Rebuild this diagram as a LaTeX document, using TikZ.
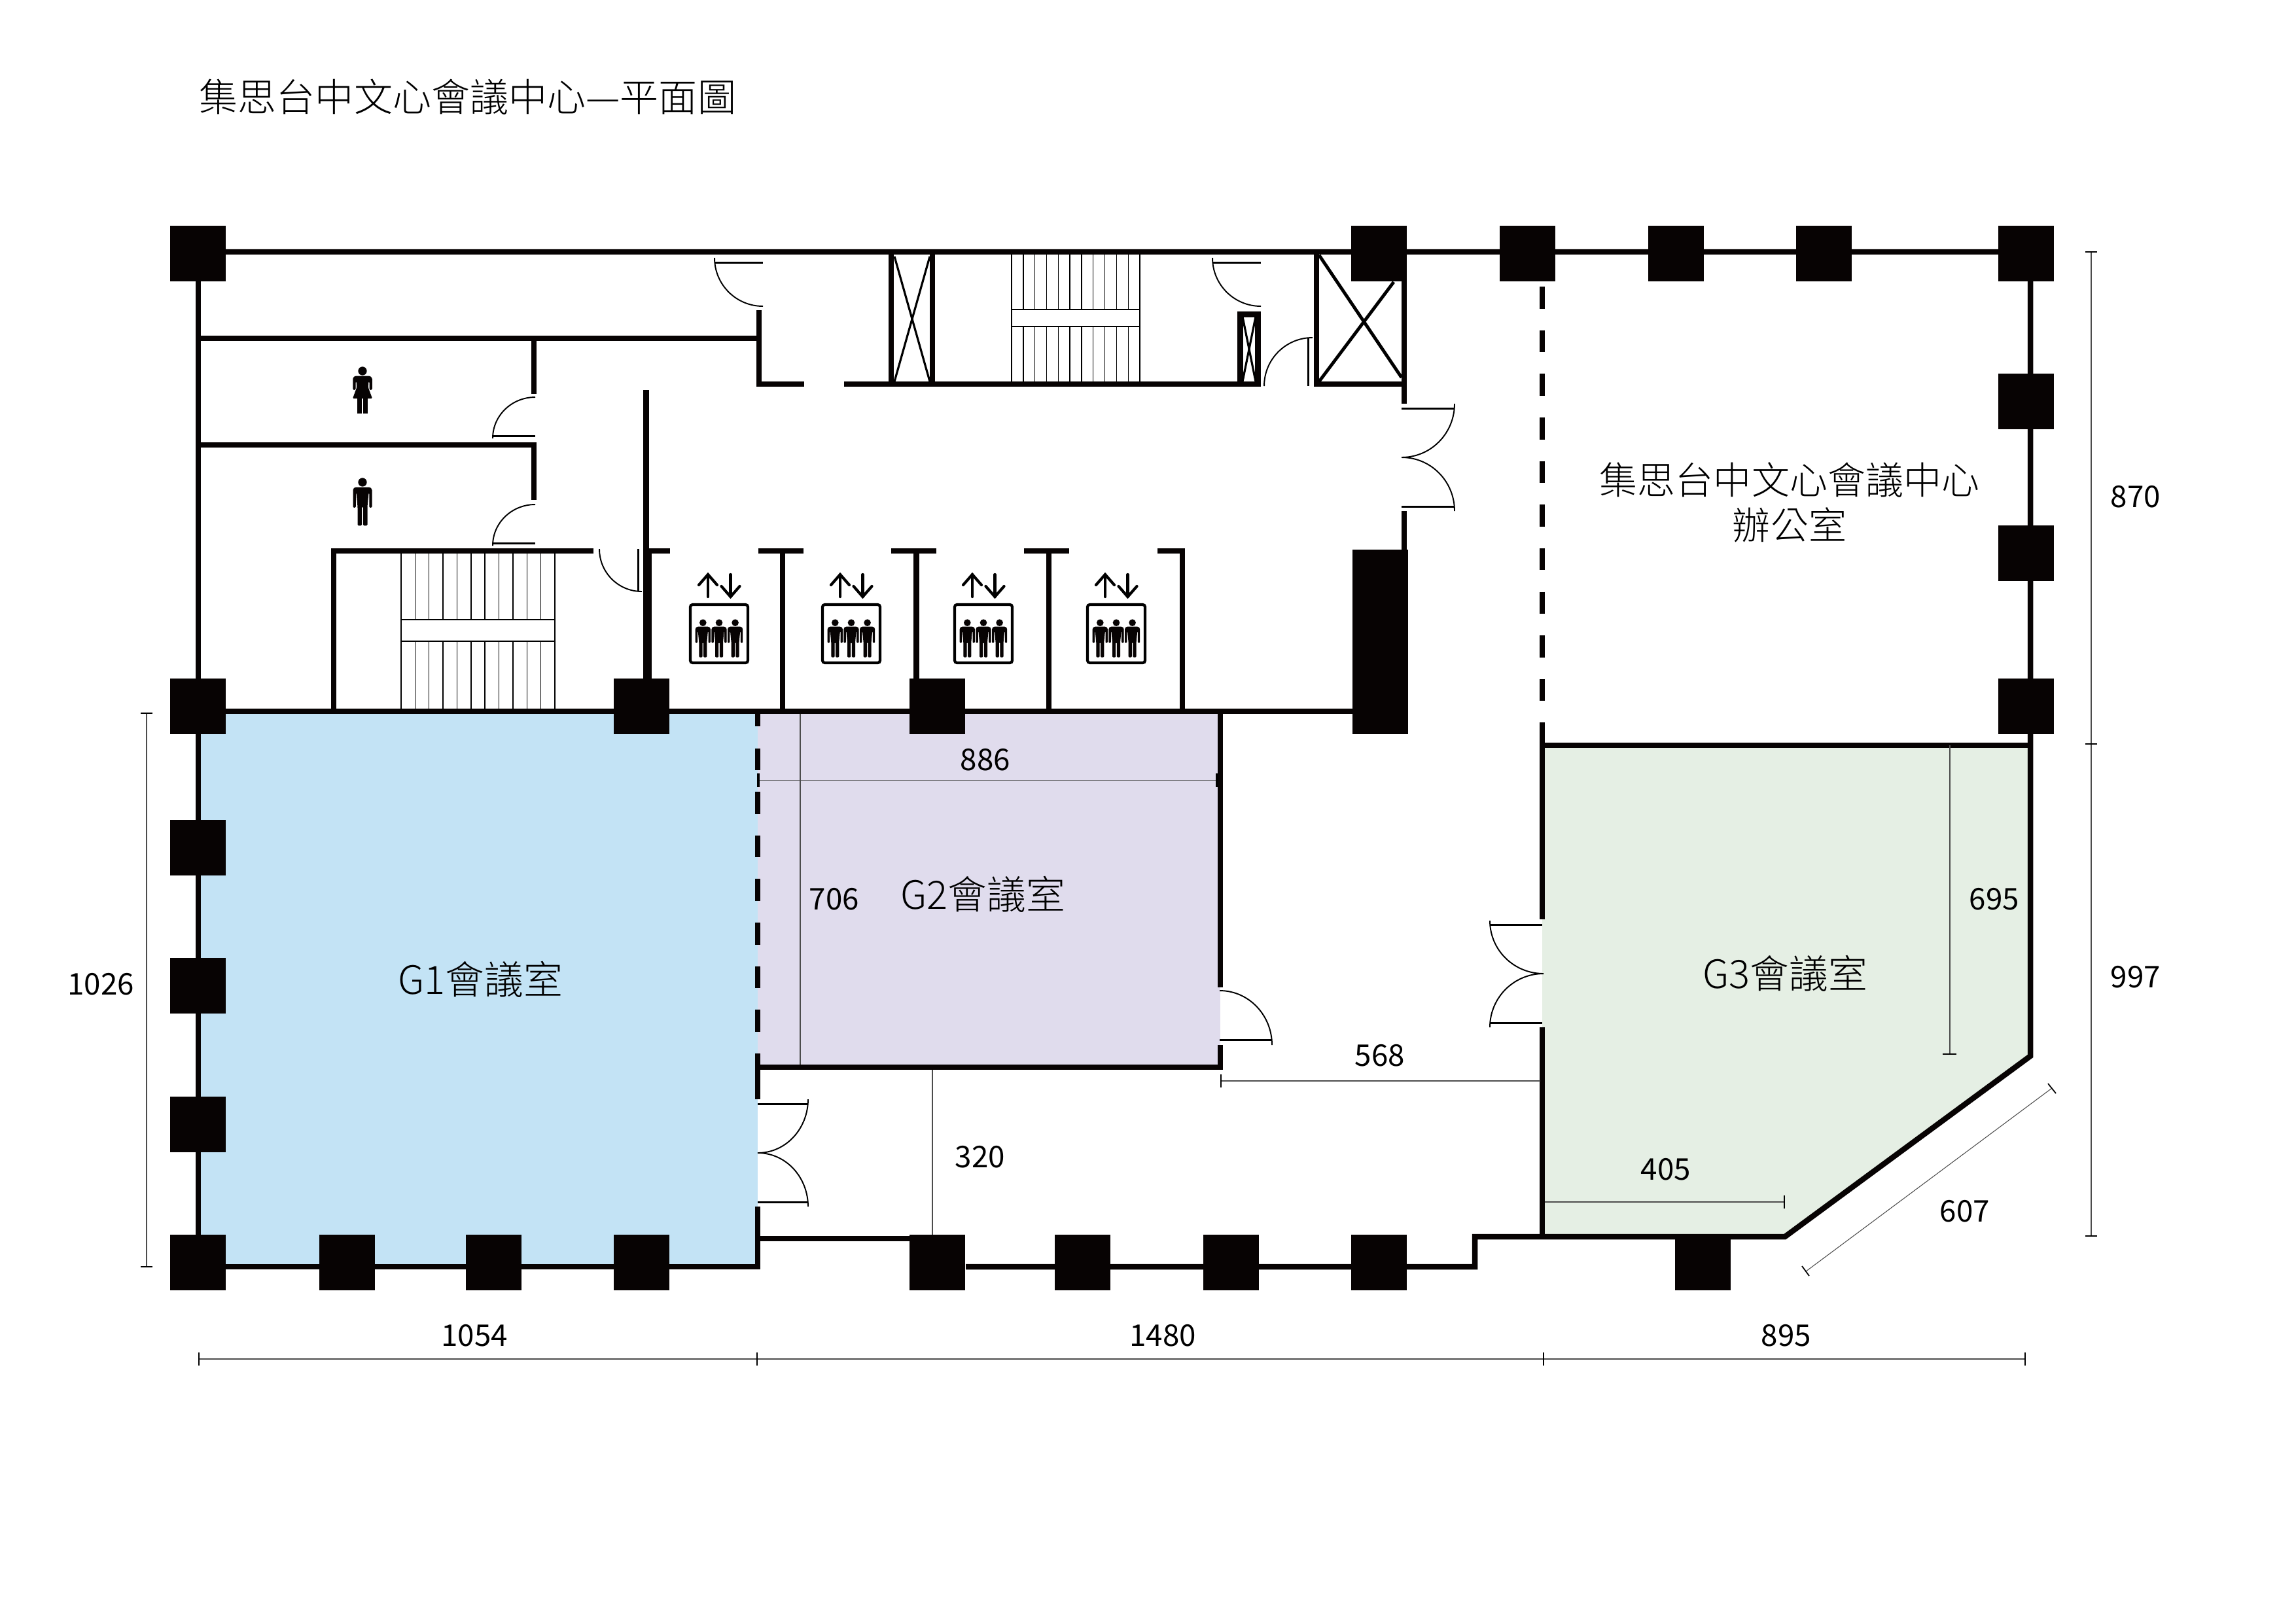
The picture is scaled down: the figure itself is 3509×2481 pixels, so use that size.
\documentclass[tikz,border=0pt]{standalone}
\usepackage{fontspec}
\setmainfont{Noto Sans CJK TC}
\newfontfamily\lightcjk{Noto Sans CJK TC Light}
\definecolor{wallblack}{HTML}{070303}
\definecolor{roomblue}{HTML}{C3E3F5}
\definecolor{roomlilac}{HTML}{E0DCED}
\definecolor{roomgreen}{HTML}{E5EFE4}
\tikzset{
	wall/.style={draw=wallblack, line width=2.4pt},
	dashwall/.style={wall, dash pattern=on 9.55pt off 9.4pt},
	pillar/.style={fill=wallblack},
	door/.style={draw=black, line width=.55pt},
	leaf/.style={draw=black, line width=.85pt},
	stair/.style={draw=black, line width=.4pt},
	dimline/.style={draw=black!70, line width=.4pt},
	dimtick/.style={draw=black, line width=.5pt},
	liftarrow/.style={draw=black, line width=1.2pt, line cap=round},
	titlelabel/.style={font=\lightcjk\fontsize{16.8pt}{19pt}\selectfont},
	officelabel/.style={font=\lightcjk\fontsize{16.5pt}{19.6pt}\selectfont, align=center},
	roomlabel/.style={font=\lightcjk\fontsize{17pt}{19.6pt}\selectfont},
	dimlabel/.style={font=\fontsize{13pt}{15pt}\selectfont},
	man/.pic={
		\fill[wallblack] (0,0) circle [radius=5.3];
		\fill[wallblack, rounded corners=.4pt] (-9,6) -- (9,6) -- (11.6,8.5) -- (11.6,31) -- (8.2,31) -- (8.2,13) -- (7.6,13)
			-- (6,30) -- (6,53) -- (.8,53) -- (.8,30) -- (-.8,30) -- (-.8,53) -- (-6,53) -- (-6,30)
			-- (-7.6,13) -- (-8.2,13) -- (-8.2,31) -- (-11.6,31) -- (-11.6,8.5) -- cycle;
	},
	woman/.pic={
		\fill[wallblack] (0,0) circle [radius=5.3];
		\fill[wallblack, rounded corners=.4pt] (-9,6) -- (9,6) -- (11.8,8.5) -- (11.8,23) -- (8.4,23) -- (8.4,13) -- (7.4,13)
			-- (7,20) -- (12,33.6) -- (-12,33.6) -- (-7,20) -- (-7.4,13) -- (-8.4,13) -- (-8.4,23) -- (-11.8,23) -- (-11.8,8.5) -- cycle;
		\fill[wallblack] (-6.4,33) rectangle (-.8,52);
		\fill[wallblack] (.8,33) rectangle (6.4,52);
	}
}
\begin{document}
\begin{tikzpicture}[x=.01cm, y=-.01cm]
	\useasboundingbox (0,0) rectangle (3509,2481);

	% room fills
	\fill[roomblue] (303,1087) rectangle (1158,1936);
	\fill[roomlilac] (1158,1087) rectangle (1865,1631);
	\fill[roomgreen] (2357,1139) -- (3103,1139) -- (3103,1614) -- (2728,1890) -- (2357,1890) -- cycle;

	% outer walls
	\draw[wall] (303,385) -- (3103,385) -- (3103,1614) -- (2728,1890) -- (2254,1890) -- (2254,1936) -- (1476,1936);
	\draw[wall] (303,385) -- (303,1936) -- (1158,1936) -- (1158,1844);
	\draw[wall] (1158,1893) -- (1390,1893);

	% toilets and corridor
	\draw[wall] (303,517) -- (1160,517);
	\draw[wall] (1160,474) -- (1160,587) -- (1229,587);
	\draw[wall] (1290,587) -- (1926,587);
	\draw[wall] (816,517) -- (816,602);
	\draw[wall] (303,680) -- (816,680) -- (816,764);

	% lower stair and lift walls
	\draw[wall] (510,1087) -- (510,842) -- (907,842);
	\draw[wall] (987.5,596) -- (987.5,1037);
	\draw[wall, line width=3.2pt] (990,842) -- (990,1037);
	\draw[wall] (987,842) -- (1024,842);
	\draw[wall] (1159,842) -- (1228,842);
	\draw[wall] (1362,842) -- (1431,842);
	\draw[wall] (1565,842) -- (1634,842);
	\draw[wall] (1769,842) -- (1807,842) -- (1807,1087);
	\draw[wall] (1196,842) -- (1196,1087);
	\draw[wall] (1400.5,842) -- (1400.5,1040);
	\draw[wall] (1603,842) -- (1603,1087);

	% room walls
	\draw[wall] (303,1087) -- (2070,1087);
	\draw[wall] (1865,1087) -- (1865,1509);
	\draw[wall] (1865,1597) -- (1865,1635);
	\draw[wall] (1158,1631) -- (1869,1631);
	\draw[wall] (1158,1610) -- (1158,1680);
	\draw[wall] (1158,1087) -- (1158,1110);
	\draw[dashwall] (1158,1143.5) -- (1158,1577);
	\draw[dashwall] (2357,438) -- (2357,1140);
	\draw[wall] (2353,1139) -- (3103,1139);
	\draw[wall] (2357,1135) -- (2357,1405);
	\draw[wall] (2357,1570) -- (2357,1894);

	% shafts
	\draw[wall] (1362,385) -- (1362,587);
	\draw[wall] (1425,385) -- (1425,587);
	\draw[draw=black, line width=.9pt] (1367,392) -- (1421,583);
	\draw[draw=black, line width=.9pt] (1367,583) -- (1421,392);
	\draw[wall] (1895.5,480.5) rectangle (1922.5,587);
	\draw[draw=black, line width=.9pt] (1899,484) -- (1919,583);
	\draw[draw=black, line width=.9pt] (1899,583) -- (1919,484);
	\draw[wall] (2012,385) -- (2012,587) -- (2146,587);
	\draw[wall] (2146,420) -- (2146,617);
	\draw[wall] (2146,781) -- (2146,845);
	\draw[draw=black, line width=1.4pt] (2016,390) -- (2142,577);
	\draw[draw=black, line width=1.4pt] (2016,583) -- (2130,431);

	% stairs
	\foreach \k in {0,...,11} {
		\draw[stair] (613+21.36*\k,845) -- (613+21.36*\k,1084);
		\draw[stair] (1546+17.82*\k,389) -- (1546+17.82*\k,583);
	}
	\draw[stair, fill=white] (613,947) rectangle (848,980);
	\draw[stair, fill=white] (1546,473) rectangle (1742,499);

	% pillars
	\foreach \cx/\cy in {260/345,2065/345,2292/345,2519/345,2745/345,3054/345,
		3054/571,3054/803,3054/1037,260/1037,938/1037,1390/1037,
		260/1253,260/1464,260/1676,
		260/1887,488/1887,712/1887,938/1887,1390/1887,1612/1887,1839/1887,2065/1887,2560/1887} {
		\fill[pillar] (\cx,\cy) rectangle ++(85,85);
	}
	\fill[pillar] (2067,840) rectangle (2152,1122);

	% single doors
	\foreach \dx in {0,761} {
		\draw[leaf] (1092+\dx,401) -- (1166+\dx,401);
		\draw[door] (1092+\dx,394) to[out=-90, in=180] (1166+\dx,468);
	}
	\foreach \dy in {0,164} {
		\draw[leaf] (753,666+\dy) -- (818,666+\dy);
		\draw[door] (753,670+\dy) to[out=90, in=180] (818,607+\dy);
	}
	\draw[leaf] (975,839) -- (975,904);
	\draw[door] (916,839) to[out=-90, in=180] (981,904);
	\draw[leaf] (1999,516) -- (1999,590);
	\draw[door] (1932,590) to[out=90, in=180] (2006,516);
	\draw[leaf] (1864,1589) -- (1944,1589);
	\draw[door] (1864,1514) to[out=0, in=90] (1944,1597);

	% double doors
	\draw[leaf] (2142,624) -- (2223,624);
	\draw[leaf] (2142,774) -- (2223,774);
	\draw[door] (2223,617) to[out=-90, in=0] (2142,699) to[out=0, in=90] (2223,781);
	\draw[leaf] (1158,1687) -- (1235,1687);
	\draw[leaf] (1158,1837) -- (1235,1837);
	\draw[door] (1235,1680) to[out=-90, in=0] (1158,1762) to[out=0, in=90] (1235,1844);
	\draw[leaf] (2277,1413) -- (2357,1413);
	\draw[leaf] (2277,1563) -- (2357,1563);
	\draw[door] (2277,1407) to[out=-90, in=180] (2359,1488) to[out=180, in=90] (2277,1570);

	% toilet and lift signs
	\pic[scale=1.25] at (554,567) {woman};
	\pic[scale=1.25] at (554,737) {man};
	\foreach \lx in {1053,1255,1457,1660} {
		\draw[draw=black, line width=1.2pt, rounded corners=1pt] (\lx+2,924) rectangle (\lx+90,1013);
		\draw[liftarrow] (\lx+29,912) -- (\lx+29,878);
		\draw[liftarrow] (\lx+15,894) -- (\lx+29,878) -- (\lx+43,894);
		\draw[liftarrow] (\lx+63.5,878) -- (\lx+63.5,912);
		\draw[liftarrow] (\lx+49.5,896) -- (\lx+63.5,912) -- (\lx+77.5,896);
		\foreach \mx in {21.3,46,70.6} {
			\pic at (\lx+\mx,951.7) {man};
		}
	}

	% dimension lines
	\draw[dimline] (224,1090) -- (224,1936);
	\draw[dimtick] (215,1090) -- (233,1090);
	\draw[dimtick] (215,1936) -- (233,1936);
	\draw[dimline] (304,2077) -- (3095,2077);
	\foreach \tx in {304,1157,2359,3095} {
		\draw[dimtick] (\tx,2067) -- (\tx,2087);
	}
	\draw[dimline] (3196,385) -- (3196,1889);
	\foreach \ty in {385,1137,1889} {
		\draw[dimtick] (3187,\ty) -- (3205,\ty);
	}
	\draw[dimline] (1159,1192.5) -- (1860,1192.5);
	\draw[dimtick, line width=1pt] (1159,1182) -- (1159,1203);
	\draw[dimtick, line width=1pt] (1860,1182) -- (1860,1203);
	\draw[dimline] (1223,1091) -- (1223,1627);
	\draw[dimline] (1425,1635) -- (1425,1887);
	\draw[dimline, line width=.6pt] (1866,1652) -- (2354,1652);
	\draw[dimtick] (1866,1642) -- (1866,1662);
	\draw[dimline] (2980,1139) -- (2980,1611);
	\draw[dimtick] (2969,1611) -- (2990,1611);
	\draw[dimline] (2361,1837) -- (2727,1837);
	\draw[dimtick] (2727,1827) -- (2727,1847);
	\draw[dimline, line width=.3pt] (2760,1943) -- (3136,1663);
	\draw[dimtick] (2754,1935) -- (2765,1950);
	\draw[dimtick] (3130,1656) -- (3142,1671);

	% texts
	\node[titlelabel, anchor=west, inner sep=0pt] (plantitle) at (304,148) {集思台中文心會議中心—平面圖};
	\node[officelabel] (officename) at (2735,768) {集思台中文心會議中心\\辦公室};
	\node[roomlabel] (roomone) at (734,1497) {G1會議室};
	\node[roomlabel] (roomtwo) at (1502,1367) {G2會議室};
	\node[roomlabel] (roomthree) at (2728,1488) {G3會議室};
	\node[dimlabel] (dimwest) at (154,1504) {1026};
	\node[dimlabel] (dimsouthone) at (725,2041) {1054};
	\node[dimlabel] (dimsouthtwo) at (1777,2041) {1480};
	\node[dimlabel] (dimsouththree) at (2730,2041) {895};
	\node[dimlabel] (dimeastone) at (3264,759) {870};
	\node[dimlabel] (dimeasttwo) at (3264,1493) {997};
	\node[dimlabel] (dimtwowide) at (1506,1161) {886};
	\node[dimlabel] (dimtwodeep) at (1275,1374) {706};
	\node[dimlabel] (dimcorridor) at (1498,1768) {320};
	\node[dimlabel] (dimlobby) at (2109,1613) {568};
	\node[dimlabel] (dimthreedeep) at (3048,1374) {695};
	\node[dimlabel] (dimthreewide) at (2546,1787) {405};
	\node[dimlabel] (dimdiagonal) at (3003,1851) {607};
\end{tikzpicture}
\end{document}
